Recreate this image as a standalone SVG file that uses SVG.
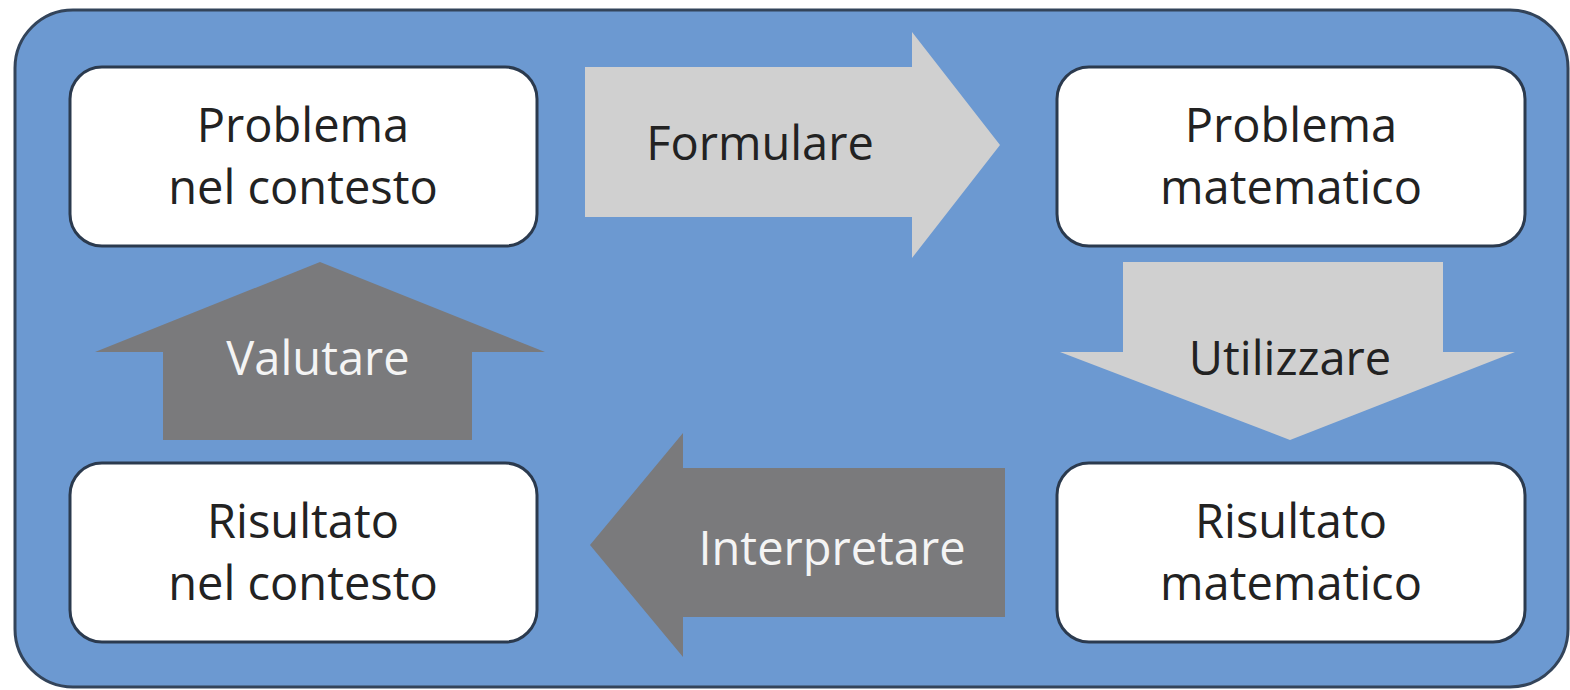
<svg xmlns="http://www.w3.org/2000/svg" width="1570" height="690" viewBox="0 0 1570 690">
<style>
.node rect{fill:#ffffff;stroke:#2b3a4e;stroke-width:3}
.t{font-family:"Open Sans","Liberation Sans",sans-serif;font-size:47px;text-anchor:middle;fill:#222222}
.light{fill:#d0d0d0}
.dark{fill:#7a7a7c}
.tw{fill:#f4f4f4}
</style>
<rect x="15" y="10" width="1553" height="677" rx="58" fill="#6c99d1" stroke="#33445a" stroke-width="3"/>
<g id="connectors">
<g id="formulare">
<polygon class="light" points="585,67 912,67 912,32 1000,145 912,258 912,217 585,217"/>
<text class="t" x="760" y="160">Formulare</text>
</g>
<g id="utilizzare">
<polygon class="light" points="1123,262 1443,262 1443,352 1515,352 1290,440 1060,352 1123,352"/>
<text class="t" x="1290" y="375">Utilizzare</text>
</g>
<g id="valutare">
<polygon class="dark" points="163,440 472,440 472,352 545,352 320,262 95,352 163,352"/>
<text class="t tw" x="318" y="375">Valutare</text>
</g>
<g id="interpretare">
<polygon class="dark" points="1005,468 1005,617 683,617 683,657 590,545 683,433 683,468"/>
<text class="t tw" x="832" y="565">Interpretare</text>
</g>
</g>
<g id="n1" class="node">
<rect x="70" y="67" width="467" height="179" rx="32"/>
<text class="t" x="303" y="142">Problema</text>
<text class="t" x="303" y="204">nel contesto</text>
</g>
<g id="n2" class="node">
<rect x="1057" y="67" width="468" height="179" rx="32"/>
<text class="t" x="1291" y="142">Problema</text>
<text class="t" x="1291" y="204">matematico</text>
</g>
<g id="n3" class="node">
<rect x="70" y="463" width="467" height="179" rx="32"/>
<text class="t" x="303" y="538">Risultato</text>
<text class="t" x="303" y="600">nel contesto</text>
</g>
<g id="n4" class="node">
<rect x="1057" y="463" width="468" height="179" rx="32"/>
<text class="t" x="1291" y="538">Risultato</text>
<text class="t" x="1291" y="600">matematico</text>
</g>
</svg>
